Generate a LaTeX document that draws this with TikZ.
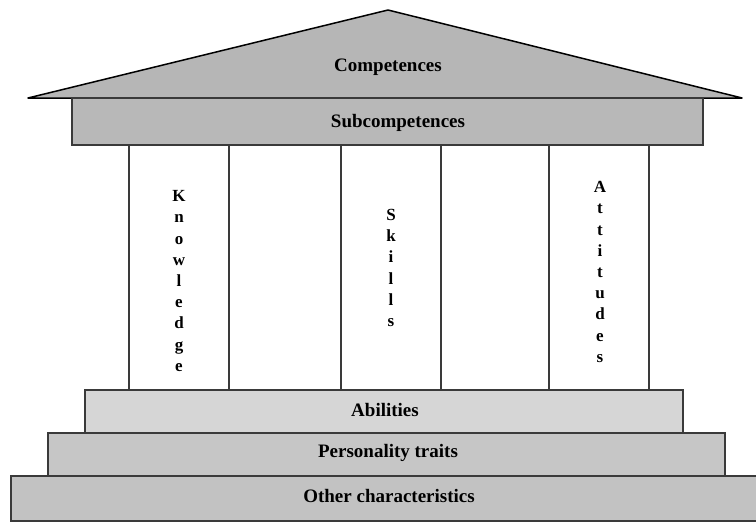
\documentclass[tikz,border=0pt]{standalone}
\usepackage{fontspec}
\setmainfont{Liberation Serif}
\usetikzlibrary{positioning}
\definecolor{roofgray}{HTML}{B6B6B6}
\definecolor{subgray}{HTML}{B8B8B8}
\definecolor{abilgray}{HTML}{D6D6D6}
\definecolor{persgray}{HTML}{C6C6C6}
\definecolor{othergray}{HTML}{C2C2C2}
\definecolor{linegray}{HTML}{3A3A3A}
\begin{document}
\begin{tikzpicture}[x=1pt,y=-1pt,
  band/.style={draw=linegray,line width=1.3pt},
  pillar/.style={draw=linegray,line width=1.1pt,fill=white},
  lbl/.style={inner sep=0pt,text=black,font=\fontsize{19}{21}\selectfont\bfseries},
  vlbl/.style={inner sep=0pt,align=center,text=black,
    font=\fontsize{17}{21.2}\selectfont\bfseries}]
\useasboundingbox (0,0) rectangle (756,522);
% pillars
\foreach \a/\b in {129/229,229/341,341/441,441/549,549/649}{
  \draw[pillar] (\a,145) rectangle (\b,390);
}
% roof
\draw[draw=black,line width=1.5pt,fill=roofgray,line join=round]
  (28,98) -- (388,10) -- (742,98) -- cycle;
\node[lbl] (comp) at (388,67) {Competences};
% subcompetences
\draw[band,fill=subgray] (72,98) rectangle (703,145);
\node[lbl] (sub) at (398,123) {Subcompetences};
% base steps
\draw[band,fill=othergray] (11,476) rectangle (757,521);
\node[lbl] (oth) at (389,496) {Other characteristics};
\draw[band,fill=persgray] (48,433) rectangle (725,476);
\node[lbl] (pers) at (388,453) {Personality traits};
\draw[band,fill=abilgray] (85,390) rectangle (683,433);
\node[lbl] (abil) at (385,410) {Abilities};
% column labels
\node[vlbl] (know) at (179,281) {K\\n\\o\\w\\l\\e\\d\\g\\e};
\node[vlbl] (skill) at (391,268) {S\\k\\i\\l\\l\\s};
\node[vlbl] (att) at (600,272) {A\\t\\t\\i\\t\\u\\d\\e\\s};
\end{tikzpicture}
\end{document}
